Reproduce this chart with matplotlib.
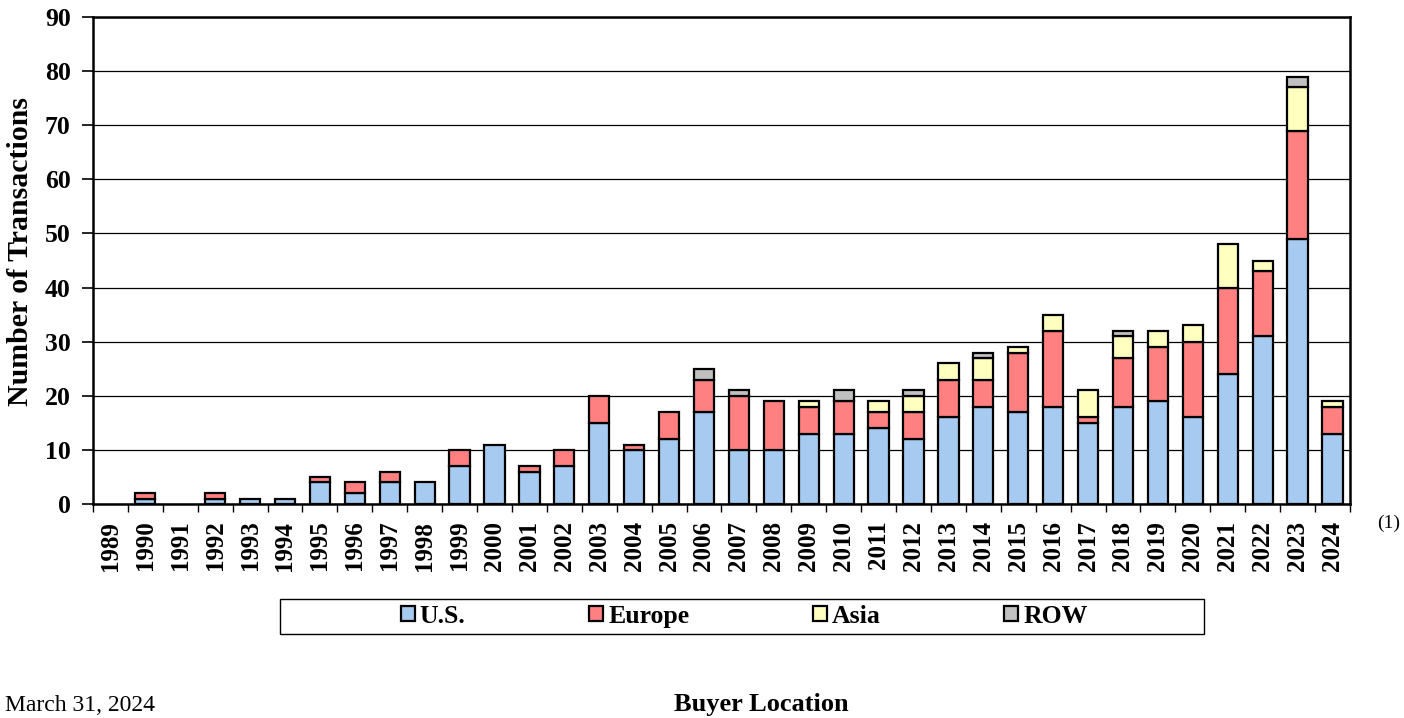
import matplotlib.pyplot as plt
import numpy as np
from matplotlib.patches import Rectangle

years = [str(y) for y in range(1989, 2025)]
us = [0, 1, 0, 1, 1, 1, 4, 2, 4, 4, 7, 11, 6, 7, 15, 10, 12, 17, 10, 10,
      13, 13, 14, 12, 16, 18, 17, 18, 15, 18, 19, 16, 24, 31, 49, 13]
europe = [0, 1, 0, 1, 0, 0, 1, 2, 2, 0, 3, 0, 1, 3, 5, 1, 5, 6, 10, 9,
          5, 6, 3, 5, 7, 5, 11, 14, 1, 9, 10, 14, 16, 12, 20, 5]
asia = [0, 0, 0, 0, 0, 0, 0, 0, 0, 0, 0, 0, 0, 0, 0, 0, 0, 0, 0, 0,
        1, 0, 2, 3, 3, 4, 1, 3, 5, 4, 3, 3, 8, 2, 8, 1]
row = [0, 0, 0, 0, 0, 0, 0, 0, 0, 0, 0, 0, 0, 0, 0, 0, 0, 2, 1, 0,
       0, 2, 0, 1, 0, 1, 0, 0, 0, 1, 0, 0, 0, 0, 2, 0]

series = [("U.S.", us, "#a6caf0"), ("Europe", europe, "#ff8080"),
          ("Asia", asia, "#ffffc0"), ("ROW", row, "#c0c0c0")]

plt.rcParams['font.family'] = ['Liberation Serif', 'DejaVu Serif']
plt.rcParams['font.weight'] = 'bold'

fig = plt.figure(figsize=(14.04, 7.18), dpi=100)
ax = fig.add_axes([0.0662, 0.298, 0.8953, 0.6783])

x = np.arange(len(years))
bottom = np.zeros(len(years))
handles = []
for name, vals, color in series:
    vals = np.array(vals, dtype=float)
    keep = vals > 0  # skip empty segments so no flat outlines are drawn
    b = ax.bar(x[keep], vals[keep], width=0.58, bottom=bottom[keep], color=color,
               edgecolor="black", linewidth=1.6, label=name, zorder=3)
    handles.append(b)
    bottom += vals

ax.set_xlim(-0.5, len(years) - 0.5)
ax.set_ylim(0, 90)
ax.set_yticks(range(0, 91, 10))
ax.yaxis.grid(True, color="black", linewidth=0.9, zorder=0)
ax.tick_params(axis="y", labelsize=18.5, length=8, width=1.2, direction="out", pad=8)

ax.set_xticks(x)
ax.set_xticklabels(years, rotation=90, fontsize=18, fontweight="bold")
ax.set_xticks(np.arange(-0.5, len(years), 1), minor=True)
ax.tick_params(axis="x", which="major", length=0, pad=12)
ax.tick_params(axis="x", which="minor", length=6, width=1.0, direction="out")
for lab in ax.get_yticklabels():
    lab.set_fontweight("bold")

for sp in ax.spines.values():
    sp.set_linewidth(1.8)
    sp.set_zorder(4)

ax.set_ylabel("Number of Transactions", fontsize=21.5, fontweight="bold")
ax.yaxis.set_label_coords(-0.047, 0.518)

leg = fig.legend(handles=handles, loc="center", bbox_to_anchor=(0.53, 0.142),
                 ncol=4, frameon=False, fontsize=18.5, handlelength=0.55,
                 handleheight=0.55, handletextpad=0.2, columnspacing=4.8)
fig.patches.append(Rectangle((280 / 1404, 1 - 634 / 718), 924 / 1404, 35 / 718,
                             transform=fig.transFigure, fill=False,
                             edgecolor="black", linewidth=1.0))

fig.text(761 / 1404, 1 - 705 / 718, "Buyer Location", ha="center", va="center",
         fontsize=19, fontweight="bold")
fig.text(5 / 1404, 2 / 718, "March 31, 2024", ha="left", va="bottom",
         fontsize=17, fontweight="normal")
fig.text(1389 / 1404, 1 - 523 / 718, "(1)", ha="center", va="center",
         fontsize=14, fontweight="normal")

fig.savefig("out.png", dpi=100)
